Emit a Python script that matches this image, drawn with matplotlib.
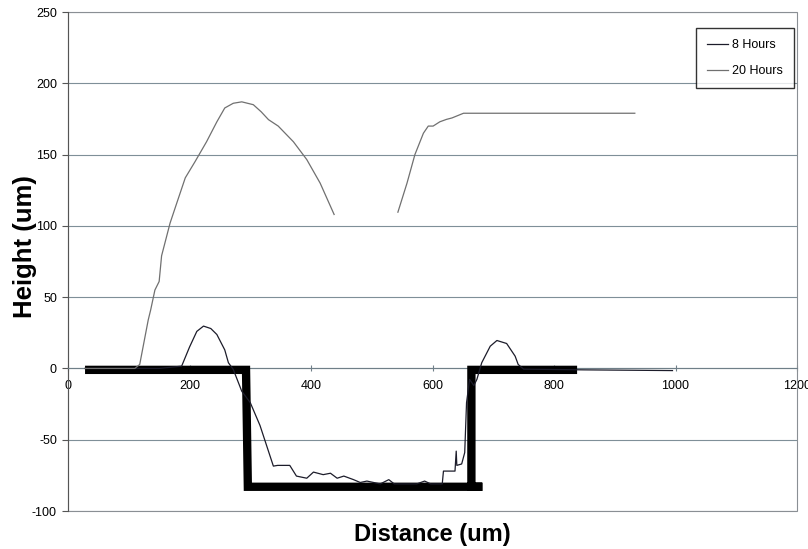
import matplotlib.pyplot as plt
from matplotlib.patches import Rectangle

plt.rcParams['font.family'] = ['Liberation Sans', 'DejaVu Sans']
plt.rcParams['axes.unicode_minus'] = False

# trench outline (thick black)
mask_x = [28, 293, 296, 682, 664, 664, 838]
mask_y = [-1, -1, -83, -83, -83, -1, -1]

# 8 Hours profile
h8_x = [28, 150, 187, 200, 212, 223, 235, 245, 258, 264, 272, 286, 300, 316, 338,
        345, 365, 376, 393, 404, 420, 432, 443, 454, 470, 481, 492, 514, 528, 537,
        574, 587, 597, 616, 618, 637, 639, 640, 648, 653, 656, 661, 668, 673, 681,
        695, 706, 722, 736, 741, 750, 850, 995]
h8_y = [0, 0, 1.6, 15, 26, 29.7, 28, 23.8, 13, 4, -0.7, -16, -24, -40, -68.5,
        -68, -68, -75.5, -77, -72.7, -74.5, -73.5, -77, -75.5, -78, -80, -79, -81, -78, -81,
        -81, -79, -81, -81, -72, -72, -58, -68, -67, -59, -24, -7.7, -12, -7.7, 4,
        15.6, 19.6, 17.5, 8.6, 2.8, -0.5, -1, -1.5]

# 20 Hours profile (gap where the curve is missing)
h20_x = [28, 110, 118, 132, 136, 143, 150, 154, 168, 179, 193, 209, 228, 245, 258,
         272, 286, 305, 318, 330, 346, 371, 393, 415, 438,
         440,
         543, 558, 571, 585, 593, 601, 612, 623, 632, 651, 700, 800, 933]
h20_y = [0, 0, 2.8, 34, 41, 55, 61, 79, 102, 116, 133.7, 145, 159, 173, 182.7,
         186, 187, 185, 180, 174.5, 170, 159, 146.5, 130, 108,
         float('nan'),
         109.6, 130, 150, 165, 170, 170, 173, 174.7, 175.7, 179, 179, 179, 179]

x_ticks = [0, 200, 400, 600, 800, 1000, 1200]
y_ticks = [-100, -50, 0, 50, 100, 150, 200, 250]

fig = plt.figure(figsize=(8.08, 5.49), dpi=100)
ax = fig.add_axes([0.0842, 0.0692, 0.9022, 0.9089])

ax.plot(mask_x, mask_y, color='black', lw=6, solid_capstyle='butt',
        solid_joinstyle='miter', zorder=3)
ax.plot(h8_x, h8_y, color='#1c1c2a', lw=0.9, label='8 Hours', zorder=4)
ax.plot(h20_x, h20_y, color='#707070', lw=0.9, label='20 Hours', zorder=4)

ax.set_xlim(0, 1200)
ax.set_ylim(-100, 250)
ax.set_yticks(y_ticks)
ax.set_xticks(x_ticks)
ax.yaxis.grid(True, color='#7f8f98', lw=0.8)
ax.set_axisbelow(True)

# x axis drawn through zero, frame drawn separately
for s in ['top', 'right']:
    ax.spines[s].set_visible(False)
ax.spines['bottom'].set_position(('data', 0))
ax.spines['bottom'].set_color('#6f7f88')
ax.spines['left'].set_color('#555555')
ax.add_patch(Rectangle((0, 0), 1, 1, transform=ax.transAxes, fill=False,
                       edgecolor='#8a8f94', lw=0.8, clip_on=False, zorder=1))

ax.tick_params(axis='x', direction='inout', length=4, color='#6f7f88',
               labelsize=9, pad=6)
ax.tick_params(axis='y', direction='out', length=4, color='#555555',
               labelsize=9, pad=4)

ax.set_ylabel('Height (um)', fontsize=18.5, fontweight='bold')
ax.yaxis.set_label_coords(-0.0425, 0.529)
ax.set_xlabel('Distance (um)', fontsize=17, fontweight='bold')
ax.xaxis.set_label_coords(0.5, -0.024)

ax.legend(loc='upper right', bbox_to_anchor=(0.996, 0.968), borderaxespad=0,
          fontsize=9, frameon=True, fancybox=False, edgecolor='black',
          handlelength=1.7, handletextpad=0.3, labelspacing=1.1, borderpad=0.9)

plt.savefig('out.png', dpi=100)
